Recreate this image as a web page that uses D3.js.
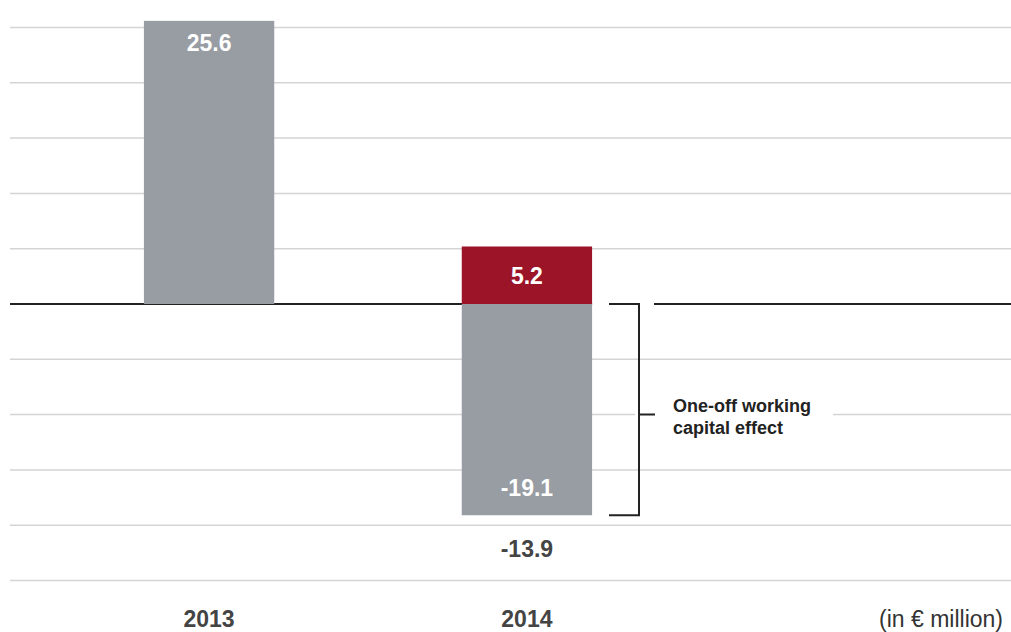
<!DOCTYPE html>
<html>
<head>
<meta charset="utf-8">
<script src="https://cdn.jsdelivr.net/npm/d3@7"></script>
<style>
  html, body { margin: 0; padding: 0; background: #fff; }
  svg text { font-family: "Liberation Sans", Arial, Helvetica, sans-serif; }
</style>
</head>
<body>
<svg id="chart" width="1011" height="632"></svg>
<script>
// Free cash flow, in € million
const years = ["2013", "2014"];
const reported = [25.6, -19.1];        // grey bars
const oneOffEffect = [0, 5.2];         // red bar stacked on top of 2014
const netLabels = [null, -13.9];       // net figure written below the 2014 bar
const gridValues = [-25, -20, -15, -10, -5, 5, 10, 15, 20, 25];
const noteText = "(in € million)";
const bracketText = ["One-off working", "capital effect"];

const grey = "#989ca3";
const red = "#9c1428";
const ink = "#222222";
const gridColor = "#d4d4d4";

const svg = d3.select("#chart");
const W = 1011;

const y = d3.scaleLinear().domain([-25, 25]).range([580.5, 27.5]);
const x = d3.scaleBand().domain(years).range([-15, 751]).paddingInner(0.59).paddingOuter(0.5);
const bw = x.bandwidth();
// one decimal, plain hyphen for negatives
const fmt = v => (v < 0 ? "-" : "") + Math.abs(v).toFixed(1);

const bracketX = 639;
const labelX = 673;
const labelGapEnd = 833;

// grid lines (the -10 line leaves room for the bracket label)
const grid = svg.append("g");
gridValues.forEach(v => {
  const segs = v === -10 ? [[10, bracketX - 4], [labelGapEnd, W]] : [[10, W]];
  segs.forEach(([a, b]) => {
    grid.append("line")
      .attr("x1", a).attr("x2", b)
      .attr("y1", y(v)).attr("y2", y(v))
      .attr("stroke", gridColor).attr("stroke-width", 1.5);
  });
});

// zero line, interrupted around the bracket
const barRight = x("2014") + bw;
[[10, barRight], [654, W]].forEach(([a, b]) => {
  svg.append("line")
    .attr("x1", a).attr("x2", b)
    .attr("y1", y(0)).attr("y2", y(0))
    .attr("stroke", ink).attr("stroke-width", 2);
});

// grey bars
svg.append("g").selectAll("rect")
  .data(years.map((yr, i) => ({ yr, v: reported[i] })))
  .join("rect")
  .attr("x", d => x(d.yr))
  .attr("width", bw)
  .attr("y", d => y(Math.max(0, d.v)))
  .attr("height", d => Math.abs(y(d.v) - y(0)))
  .attr("fill", grey);

// red one-off bar
svg.append("g").selectAll("rect")
  .data(years.map((yr, i) => ({ yr, v: oneOffEffect[i] })).filter(d => d.v > 0))
  .join("rect")
  .attr("x", d => x(d.yr))
  .attr("width", bw)
  .attr("y", d => y(d.v))
  .attr("height", d => y(0) - y(d.v))
  .attr("fill", red);

// value labels inside bars
const inLabels = [];
years.forEach((yr, i) => {
  const v = reported[i];
  if (v > 0) inLabels.push({ yr, text: fmt(v), ty: y(v) + 30 });
  else inLabels.push({ yr, text: fmt(v), ty: y(v) - 19 });
  if (oneOffEffect[i] > 0) inLabels.push({ yr, text: fmt(oneOffEffect[i]), ty: y(oneOffEffect[i]) + 38 });
});
svg.append("g").selectAll("text")
  .data(inLabels)
  .join("text")
  .attr("x", d => x(d.yr) + bw / 2)
  .attr("y", d => d.ty)
  .attr("text-anchor", "middle")
  .attr("font-size", 23)
  .attr("font-weight", "bold")
  .attr("fill", "#ffffff")
  .text(d => d.text);

// net figure under the bar
svg.append("g").selectAll("text")
  .data(years.map((yr, i) => ({ yr, v: netLabels[i] })).filter(d => d.v !== null))
  .join("text")
  .attr("x", d => x(d.yr) + bw / 2)
  .attr("y", 557)
  .attr("text-anchor", "middle")
  .attr("font-size", 23)
  .attr("font-weight", "bold")
  .attr("fill", "#444")
  .text(d => fmt(d.v));

// bracket for the one-off effect
const yTop = y(0), yBot = y(reported[1]);
svg.append("path")
  .attr("d", `M609,${yTop}H${bracketX}V${yBot}H609 M${bracketX},${y(-10)}H655`)
  .attr("fill", "none")
  .attr("stroke", ink)
  .attr("stroke-width", 2);

svg.append("g").selectAll("text")
  .data(bracketText)
  .join("text")
  .attr("x", labelX)
  .attr("y", (d, i) => 412 + i * 21.5)
  .attr("font-size", 18)
  .attr("font-weight", "bold")
  .attr("fill", ink)
  .text(d => d);

// category axis
svg.append("g").selectAll("text")
  .data(years)
  .join("text")
  .attr("x", d => x(d) + bw / 2)
  .attr("y", 627)
  .attr("text-anchor", "middle")
  .attr("font-size", 23)
  .attr("font-weight", "bold")
  .attr("fill", "#444")
  .text(d => d);

svg.append("text")
  .attr("x", 1003)
  .attr("y", 627)
  .attr("text-anchor", "end")
  .attr("font-size", 23)
  .attr("fill", "#333")
  .text(noteText);
</script>
</body>
</html>
